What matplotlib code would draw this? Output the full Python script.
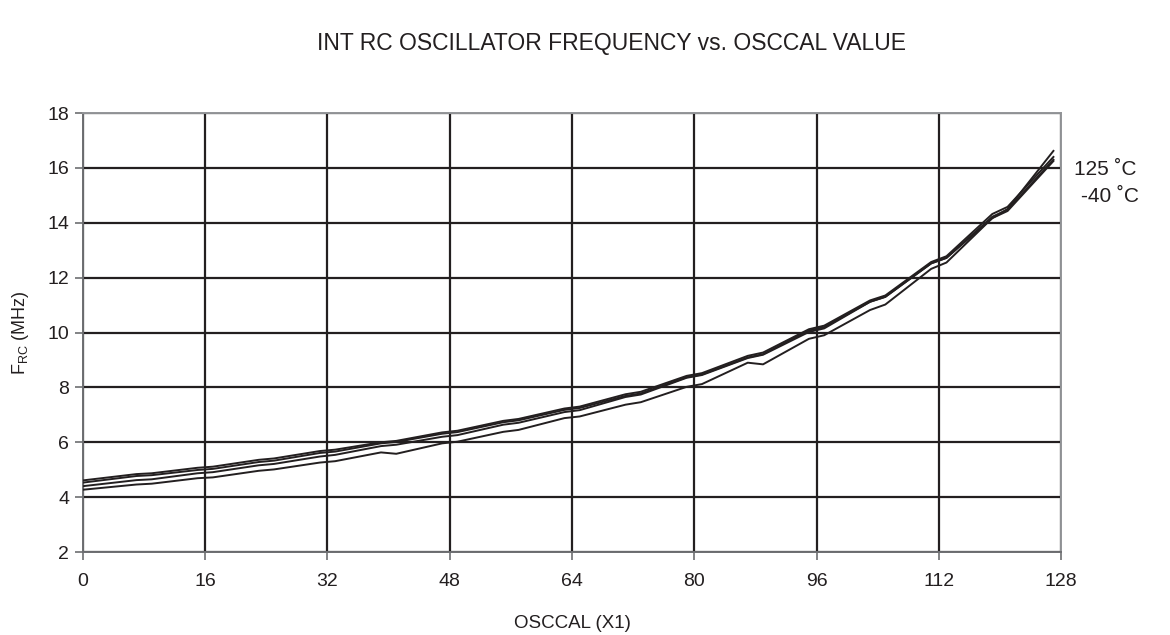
import matplotlib
matplotlib.use("Agg")
import matplotlib.pyplot as plt

plt.rcParams['font.family'] = ['Liberation Sans', 'DejaVu Sans']

# OSCCAL sample points (flat steps near every 8th value)
osccal = [0, 7, 9, 15, 17, 23, 25, 31, 33, 39, 41, 47, 49, 55, 57, 63, 65,
          71, 73, 79, 81, 87, 89, 95, 97, 103, 105, 111, 113, 119, 121, 127]

# frequency curves (MHz)
freq_a = [4.61, 4.84, 4.87, 5.07, 5.11, 5.36, 5.41, 5.68, 5.73, 6.00, 6.05,
          6.36, 6.42, 6.78, 6.85, 7.23, 7.30, 7.75, 7.84, 8.42, 8.52, 9.15,
          9.27, 10.12, 10.25, 11.17, 11.35, 12.57, 12.78, 14.32, 14.58, 16.40]
freq_b = [4.53, 4.77, 4.80, 4.99, 5.03, 5.28, 5.33, 5.61, 5.66, 5.96, 6.01,
          6.31, 6.37, 6.73, 6.80, 7.18, 7.25, 7.69, 7.78, 8.37, 8.47, 9.09,
          9.21, 10.07, 10.20, 11.12, 11.30, 12.52, 12.72, 14.22, 14.48, 16.30]
freq_c = [4.40, 4.62, 4.65, 4.87, 4.91, 5.16, 5.21, 5.48, 5.54, 5.86, 5.91,
          6.20, 6.26, 6.64, 6.71, 7.10, 7.17, 7.65, 7.74, 8.35, 8.45, 9.07,
          9.19, 10.02, 10.15, 11.12, 11.30, 12.52, 12.72, 14.17, 14.43, 16.25]
freq_d = [4.27, 4.46, 4.49, 4.69, 4.72, 4.96, 5.01, 5.26, 5.31, 5.63, 5.58,
          5.96, 6.02, 6.38, 6.45, 6.88, 6.94, 7.37, 7.46, 8.02, 8.12, 8.90,
          8.84, 9.77, 9.90, 10.82, 11.02, 12.32, 12.55, 14.17, 14.50, 16.62]

x_ticks = [0, 16, 32, 48, 64, 80, 96, 112, 128]
y_ticks = [2, 4, 6, 8, 10, 12, 14, 16, 18]

ink = '#231f20'

fig = plt.figure(figsize=(11.7, 6.35), dpi=100)
ax = fig.add_axes([0.0709, 0.1307, 0.836, 0.6913])

for f in [freq_a, freq_b, freq_c, freq_d]:
    ax.plot(osccal, f, color=ink, lw=1.4, zorder=3)

ax.set_xlim(0, 128)
ax.set_ylim(2, 18)
ax.set_xticks(x_ticks)
ax.set_yticks(y_ticks)
ax.grid(True, color=ink, lw=1.6)
ax.tick_params(axis='both', direction='out', length=6, width=1.2,
               color='#6d6e71', labelsize=14, labelcolor=ink)
ax.tick_params(axis='x', pad=9)
ax.tick_params(axis='y', pad=4)

for side in ['left', 'bottom']:
    ax.spines[side].set_color('#6d6e71')
    ax.spines[side].set_linewidth(1.4)
for side in ['top', 'right']:
    ax.spines[side].set_color('#939598')
    ax.spines[side].set_linewidth(1.4)

ax.set_xlabel('OSCCAL (X1)', fontsize=13.5, color=ink, labelpad=18)
ax.set_ylabel(r'F$_{\mathregular{RC}}$ (MHz)', fontsize=13, color=ink, labelpad=12)

fig.text(0.523, 0.932, 'INT RC OSCILLATOR FREQUENCY vs. OSCCAL VALUE',
         ha='center', va='center', fontsize=16.5, color=ink)

fig.text(0.918, 0.733, '125 ˚C', ha='left', va='center', fontsize=15, color=ink)
fig.text(0.924, 0.691, '-40 ˚C', ha='left', va='center', fontsize=15, color=ink)

fig.savefig('out.png', dpi=100)
